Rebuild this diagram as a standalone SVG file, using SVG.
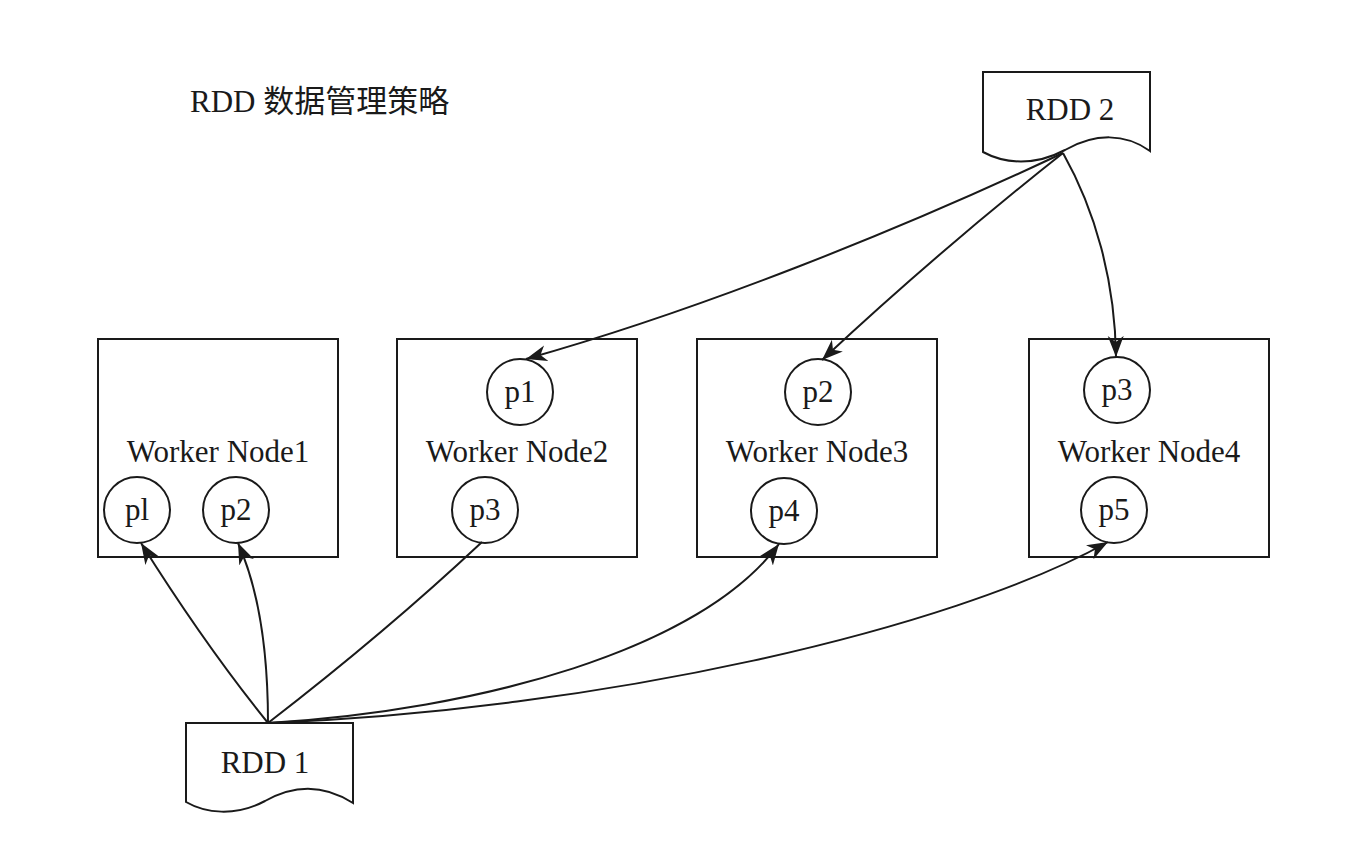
<svg xmlns="http://www.w3.org/2000/svg" width="1350" height="854" viewBox="0 0 1350 854">
<style>
.box{fill:#fff;stroke:#1a1a1a;stroke-width:2}
.circ{fill:#fff;stroke:#1a1a1a;stroke-width:2}
.t{font-family:"Liberation Serif","Times New Roman",serif;font-size:31px;fill:#1a1a1a;text-anchor:middle}
.title{font-family:"Liberation Serif","Noto Sans CJK SC",serif;font-size:31px;fill:#1a1a1a}
.edge{fill:none;stroke:#1a1a1a;stroke-width:2}
</style>
<defs>
<marker id="arr" markerUnits="userSpaceOnUse" markerWidth="24" markerHeight="18" refX="21" refY="8" orient="auto">
<path d="M0,0 L21,8 L0,16 L6,8 Z" fill="#1a1a1a"/>
</marker>
</defs>
<rect width="1350" height="854" fill="#fff"/>
<text class="title" x="190" y="112">RDD 数据管理策略</text>

<g id="wn1">
<rect class="box" x="98" y="339" width="240" height="218"/>
<text class="t" x="218" y="462">Worker Node1</text>
<circle class="circ" cx="137" cy="510" r="33"/>
<text class="t" x="137" y="520">pl</text>
<circle class="circ" cx="236" cy="510" r="33"/>
<text class="t" x="236" y="520">p2</text>
</g>
<g id="wn2">
<rect class="box" x="397" y="339" width="240" height="218"/>
<text class="t" x="517" y="462">Worker Node2</text>
<circle class="circ" cx="520" cy="392" r="33"/>
<text class="t" x="520" y="402">p1</text>
<circle class="circ" cx="485" cy="510" r="33"/>
<text class="t" x="485" y="520">p3</text>
</g>
<g id="wn3">
<rect class="box" x="697" y="339" width="240" height="218"/>
<text class="t" x="817" y="462">Worker Node3</text>
<circle class="circ" cx="818" cy="392" r="33"/>
<text class="t" x="818" y="402">p2</text>
<circle class="circ" cx="784" cy="511" r="33"/>
<text class="t" x="784" y="521">p4</text>
</g>
<g id="wn4">
<rect class="box" x="1029" y="339" width="240" height="218"/>
<text class="t" x="1149" y="462">Worker Node4</text>
<circle class="circ" cx="1117" cy="390" r="33"/>
<text class="t" x="1117" y="400">p3</text>
<circle class="circ" cx="1114" cy="510" r="33"/>
<text class="t" x="1114" y="520">p5</text>
</g>
<g id="rdd2">
<path class="box" d="M983,72 H1150 V151 C1125,133 1095,133 1065,150 C1035,166 1005,164 983,152 Z"/>
<text class="t" x="1070" y="120">RDD 2</text>
</g>
<g id="rdd1">
<path class="box" d="M186,723 H353 V803 C325,785 295,784 265,801 C235,817 205,813 186,802 Z"/>
<text class="t" x="265" y="773">RDD 1</text>
</g>

<g id="connectors">
<path class="edge" d="M268,723 Q205,645 141,543" marker-end="url(#arr)"/>
<path class="edge" d="M268,723 Q268,610 238,543" marker-end="url(#arr)"/>
<path class="edge" d="M268,723 Q386,632 482,542"/>
<path class="edge" d="M268,723 C480,710 700,650 779,544" marker-end="url(#arr)"/>
<path class="edge" d="M268,723 C600,710 950,630 1108,542" marker-end="url(#arr)"/>
<path class="edge" d="M1063,153 C900,230 700,310 526,359" marker-end="url(#arr)"/>
<path class="edge" d="M1063,153 Q940,250 822,360" marker-end="url(#arr)"/>
<path class="edge" d="M1063,153 C1095,210 1115,280 1116,357" marker-end="url(#arr)"/>
</g>
</svg>
